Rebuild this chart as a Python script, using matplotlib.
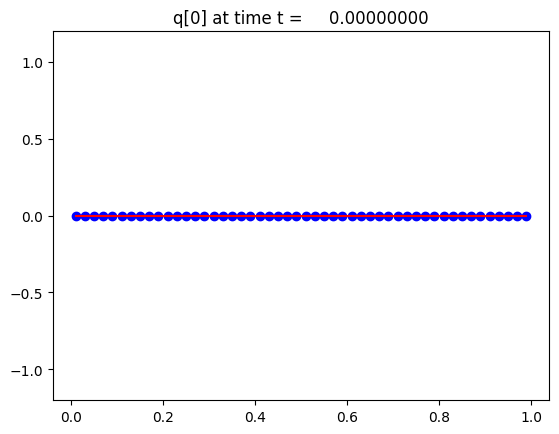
import numpy as np
import matplotlib
matplotlib.use('Agg')
import matplotlib.pyplot as plt

# cell centres and solution values at t = 0
x = [0.01, 0.03, 0.05, 0.07, 0.09, 0.11, 0.13, 0.15, 0.17, 0.19,
     0.21, 0.23, 0.25, 0.27, 0.29, 0.31, 0.33, 0.35, 0.37, 0.39,
     0.41, 0.43, 0.45, 0.47, 0.49, 0.51, 0.53, 0.55, 0.57, 0.59,
     0.61, 0.63, 0.65, 0.67, 0.69, 0.71, 0.73, 0.75, 0.77, 0.79,
     0.81, 0.83, 0.85, 0.87, 0.89, 0.91, 0.93, 0.95, 0.97, 0.99]
q = [0.0] * 50
t = 0.0

fig = plt.figure(figsize=(5.59, 4.35), dpi=100)
ax = fig.add_axes([53/559, 34/435, 496/559, 369/435])
ax.plot(x, q, 'bo')
ax.plot(x, q, 'r-')
ax.set_ylim(-1.2, 1.2)
ax.set_title('q[0] at time t = %14.8f' % t)
fig.savefig('out.png', dpi=100)
